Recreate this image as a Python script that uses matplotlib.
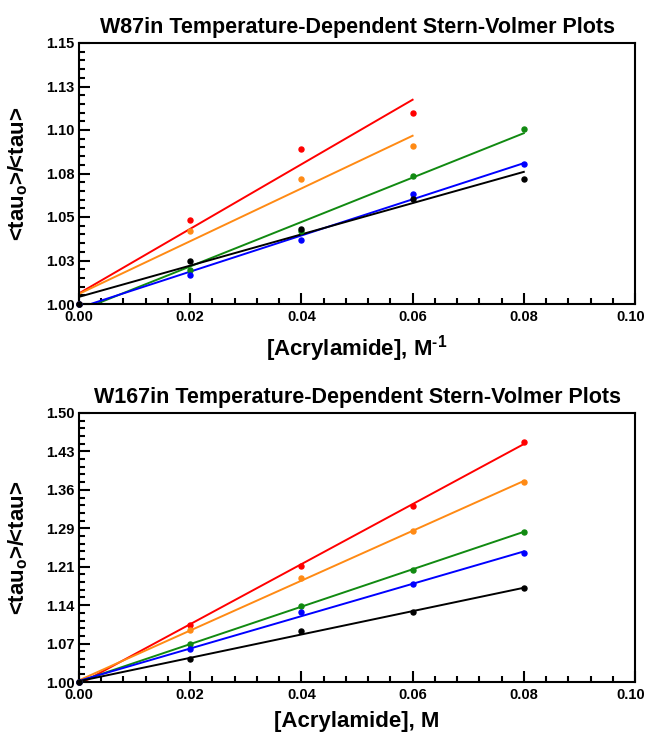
import numpy as np
import matplotlib
matplotlib.use("Agg")
import matplotlib.pyplot as plt
import matplotlib.transforms as mtransforms
from matplotlib.ticker import MultipleLocator, FuncFormatter

plt.rcParams['font.family'] = ['Liberation Sans', 'DejaVu Sans']
plt.rcParams['font.weight'] = 'bold'
plt.rcParams['mathtext.fontset'] = 'custom'
plt.rcParams['mathtext.rm'] = 'Liberation Sans:bold'
plt.rcParams['mathtext.bf'] = 'Liberation Sans:bold'
plt.rcParams['mathtext.it'] = 'Liberation Sans:bold'

# ---------------- data ----------------
conc_5 = [0.0, 0.02, 0.04, 0.06, 0.08]
conc_4 = [0.0, 0.02, 0.04, 0.06]

series_colors = ['#ff0000', '#ff8a14', '#118a11', '#0000ff', '#000000']

# W87in (top)
w87_red = [1.0, 1.048, 1.089, 1.110]
w87_orange = [1.0, 1.042, 1.072, 1.091]
w87_green = [1.0, 1.0195, 1.042, 1.0735, 1.1006]
w87_blue = [1.0, 1.0165, 1.0365, 1.0635, 1.0804]
w87_black = [1.0, 1.0248, 1.0430, 1.0602, 1.0721]

# W167in (bottom)
w167_red = [1.0, 1.1056, 1.2155, 1.3273, 1.447]
w167_orange = [1.0, 1.0963, 1.1938, 1.2807, 1.371]
w167_green = [1.0, 1.0714, 1.141, 1.208, 1.2795]
w167_blue = [1.0, 1.0609, 1.1292, 1.1814, 1.2404]
w167_black = [1.0, 1.0435, 1.0944, 1.1298, 1.1739]

top_title = "W87in Temperature-Dependent Stern-Volmer Plots"
bot_title = "W167in Temperature-Dependent Stern-Volmer Plots"
ylabel = r"<tau$_\mathrm{o}$>/<tau>"
top_xlabel = r"[Acrylamide], M$^{\mathrm{\text{-}1}}$"
bot_xlabel = "[Acrylamide], M"

top_series = [(conc_4, w87_red), (conc_4, w87_orange), (conc_5, w87_green),
              (conc_5, w87_blue), (conc_5, w87_black)]
bot_series = [(conc_5, w167_red), (conc_5, w167_orange), (conc_5, w167_green),
              (conc_5, w167_blue), (conc_5, w167_black)]

fig = plt.figure(figsize=(6.47, 7.32), dpi=100)
ax1 = fig.add_axes([79/647, 1-304/732, 556/647, 261/732])
ax2 = fig.add_axes([79/647, 1-682/732, 556/647, 269/732])


def fmt(v, pos):
    return f"{round(v + 1e-9, 2):.2f}"


def style(ax, ymin, ymax, ymaj, title, xlabel):
    ax.set_xlim(0, 0.10)
    ax.set_ylim(ymin, ymax)
    ax.xaxis.set_major_locator(MultipleLocator(0.02))
    ax.xaxis.set_minor_locator(MultipleLocator(0.004))
    ax.yaxis.set_major_locator(MultipleLocator(ymaj))
    ax.yaxis.set_minor_locator(MultipleLocator(ymaj / 5))
    ax.xaxis.set_major_formatter(FuncFormatter(fmt))
    ax.yaxis.set_major_formatter(FuncFormatter(fmt))
    ax.tick_params(which='both', direction='in', top=False, right=False,
                   width=1.5, labelsize=10.5)
    ax.tick_params(axis='x', pad=4)
    ax.tick_params(axis='y', pad=3)
    ax.tick_params(which='major', length=8)
    ax.tick_params(which='minor', length=4)
    for s in ax.spines.values():
        s.set_linewidth(1.5)
    ax.set_title(title, fontsize=15.5, fontweight='bold', pad=7)
    ax.set_xlabel(xlabel, fontsize=16, fontweight='bold', labelpad=7)
    ax.set_ylabel(ylabel, fontsize=16, fontweight='bold', labelpad=12)


for ax, series in [(ax1, top_series), (ax2, bot_series)]:
    for (xs, ys), c in zip(series, series_colors):
        xs = np.asarray(xs)
        ys = np.asarray(ys)
        slope, icpt = np.polyfit(xs, ys, 1)
        xf = np.array([xs.min(), xs.max()])
        ax.plot(xf, icpt + slope * xf, color=c, lw=1.4, zorder=2)
        ax.plot(xs, ys, 'o', color=c, ms=3.6, zorder=3, clip_on=False)

style(ax1, 1.0, 1.15, 0.025, top_title, top_xlabel)
style(ax2, 1.0, 1.5, 0.5 / 7, bot_title, bot_xlabel)

fig.canvas.draw()
shift = mtransforms.ScaledTranslation(-4/100, 0, fig.dpi_scale_trans)
for ax in (ax1, ax2):
    for tick in ax.xaxis.get_major_ticks():
        if abs(tick.get_loc() - 0.10) < 1e-9:
            tick.label1.set_transform(tick.label1.get_transform() + shift)

fig.savefig("out.png", dpi=100)
